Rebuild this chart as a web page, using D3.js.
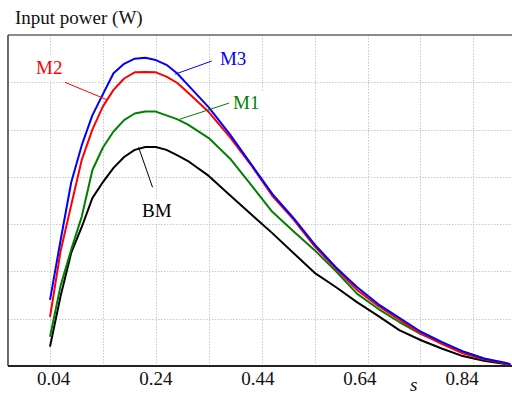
<!DOCTYPE html>
<html>
<head>
<meta charset="utf-8">
<script src="https://cdn.jsdelivr.net/npm/d3@7"></script>
<style>
  body { margin: 0; background: #fff; }
  svg { display: block; }
  text { font-family: "Liberation Serif", "DejaVu Serif", serif; }
</style>
</head>
<body>
<div id="chart"></div>
<script>
// slip values (x axis)
const slip = [0.04, 0.06, 0.08, 0.10, 0.12, 0.14, 0.16, 0.18, 0.20, 0.22,
              0.24, 0.26, 0.28, 0.30, 0.34, 0.38, 0.42, 0.46, 0.50, 0.54,
              0.58, 0.62, 0.66, 0.70, 0.74, 0.78, 0.82, 0.86, 0.90, 0.91];

// input power (W)
const powerBM = [41, 148, 239, 294, 355, 389, 419, 442, 457, 463,
                 463, 457, 446, 434, 402, 361, 321, 281, 239, 197,
                 167, 135, 106, 76, 55, 37, 21, 11, 4, 2];
const powerM1 = [62, 170, 246, 316, 414, 462, 496, 520, 534, 538,
                 538, 530, 522, 511, 482, 439, 383, 326, 285, 245,
                 201, 153, 121, 93, 68, 49, 31, 16, 5, 2];
const powerM2 = [104, 243, 340, 436, 500, 549, 584, 608, 621, 622,
                 621, 612, 599, 579, 537, 484, 425, 360, 310, 253,
                 206, 161, 127, 98, 69, 47, 27, 14, 5, 2];
const powerM3 = [140, 266, 388, 467, 530, 575, 619, 639, 650, 652,
                 647, 637, 619, 595, 547, 490, 427, 364, 313, 257,
                 209, 167, 131, 102, 73, 51, 31, 16, 7, 4];

const seriesNames = ["BM", "M1", "M2", "M3"];
const tickLabels = ["0.04", "0.24", "0.44", "0.64", "0.84"];
const gridS = [0.04, 0.14, 0.24, 0.34, 0.44, 0.54, 0.64, 0.74, 0.84];
const gridP = [100, 200, 300, 400, 500, 600];

const colors = {BM: "#000000", M1: "#008000", M2: "#ff0000", M3: "#0000ff"};
const serif = "'Liberation Serif', 'DejaVu Serif', serif";

// label anchors in data units: text start, pointer start, pointer end
const notes = [
  {name: "M2", ts: 0.0135, tp: 617, s1: 0.068, p1: 600, s2: 0.148, p2: 563},
  {name: "M3", ts: 0.361, tp: 637, s1: 0.3456, p1: 645, s2: 0.2763, p2: 617},
  {name: "M1", ts: 0.386, tp: 543, s1: 0.3864, p1: 559, s2: 0.2857, p2: 522},
  {name: "BM", ts: 0.214, tp: 315, s1: 0.2073, p1: 463, s2: 0.2337, p2: 378}
];

const W = 512, H = 396;
const plotL = 8, plotR = 512, plotT = 35, plotB = 366;

const svg = d3.select("#chart").append("svg")
  .attr("width", W).attr("height", H);

const x = d3.scaleLinear().domain([-0.0394, 0.913]).range([plotL, plotR]);
const y = d3.scaleLinear().domain([0, 700]).range([plotB, plotT]);
// tick labels sit on a slightly tighter spacing than the grid
const xLab = d3.scaleLinear().domain([0.04, 0.84]).range([53.7, 462]);

svg.append("defs").append("clipPath").attr("id", "plot")
  .append("rect").attr("x", plotL).attr("y", plotT)
  .attr("width", plotR - plotL).attr("height", plotB - plotT);

//grid
const grid = svg.append("g").attr("stroke", "#c8c8c8")
  .attr("stroke-width", 1).attr("stroke-dasharray", "1.5,1.5");
grid.selectAll(".gx").data(gridS).join("line")
  .attr("x1", d => Math.round(x(d)) + 0.5).attr("x2", d => Math.round(x(d)) + 0.5)
  .attr("y1", plotT).attr("y2", plotB);
grid.selectAll(".gy").data(gridP).join("line")
  .attr("x1", plotL).attr("x2", plotR)
  .attr("y1", d => Math.round(y(d)) + 0.5).attr("y2", d => Math.round(y(d)) + 0.5);

//frame
svg.append("line").attr("x1", plotL).attr("x2", plotR).attr("y1", plotT).attr("y2", plotT)
  .attr("stroke", "#666").attr("stroke-width", 1.6);
svg.append("line").attr("x1", plotL).attr("x2", plotL).attr("y1", plotT).attr("y2", plotB)
  .attr("stroke", "#444").attr("stroke-width", 1.6);

//curves
const seriesData = {BM: powerBM, M1: powerM1, M2: powerM2, M3: powerM3};
const line = d3.line()
  .x((d, i) => x(slip[i]))
  .y(d => y(d));

svg.append("g").attr("clip-path", "url(#plot)")
  .selectAll("path").data(seriesNames).join("path")
  .attr("d", n => line(seriesData[n]))
  .attr("fill", "none")
  .attr("stroke", n => colors[n])
  .attr("stroke-width", 2)
  .attr("stroke-linejoin", "round");

svg.append("line").attr("x1", plotL).attr("x2", plotR).attr("y1", plotB).attr("y2", plotB)
  .attr("stroke", "#222").attr("stroke-width", 1.8);

//labels with pointer lines
const ann = svg.append("g");
notes.forEach(n => {
  ann.append("line")
    .attr("x1", x(n.s1)).attr("y1", y(n.p1))
    .attr("x2", x(n.s2)).attr("y2", y(n.p2))
    .attr("stroke", colors[n.name]).attr("stroke-width", 1);
  const t = ann.append("text")
    .attr("x", x(n.ts)).attr("y", y(n.tp))
    .attr("font-family", serif)
    .attr("font-size", 19)
    .attr("fill", colors[n.name])
    .text(n.name);
  const b = t.node().getBBox();
  ann.insert("rect", () => t.node())
    .attr("x", b.x - 4).attr("y", y(n.tp) - 18)
    .attr("width", b.width + 8).attr("height", 25)
    .attr("fill", "#fff");
});

//axis text
svg.selectAll(".tick-label").data(tickLabels).join("text")
  .attr("x", d => xLab(+d)).attr("y", 385)
  .attr("text-anchor", "middle")
  .attr("font-family", serif)
  .attr("font-size", 19)
  .attr("fill", "#111")
  .text(d => d);

svg.append("text").attr("x", 410).attr("y", 391)
  .attr("font-family", serif)
  .attr("font-size", 19).attr("font-style", "italic").attr("fill", "#111")
  .text("s");

svg.append("text").attr("x", 15).attr("y", 23.5)
  .attr("font-family", serif)
  .attr("font-size", 19).attr("fill", "#111")
  .text("Input power (W)");
</script>
</body>
</html>
